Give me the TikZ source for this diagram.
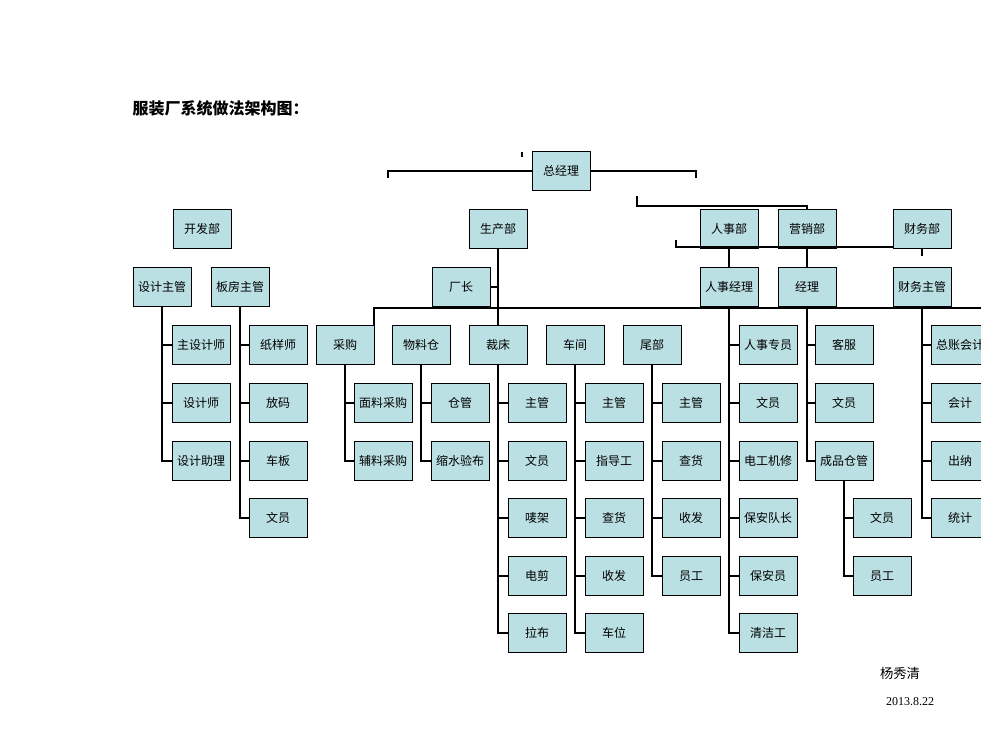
\documentclass[tikz,border=0pt]{standalone}
\usepackage{fontspec}
\setmainfont{Liberation Serif}
\newfontfamily\cjk{Noto Sans CJK SC}
\definecolor{boxfill}{HTML}{BBE0E3}
\begin{document}
\begin{tikzpicture}[x=0.75pt,y=-0.75pt,
  bx/.style={draw=black,line width=0.6pt,fill=boxfill,minimum width=43.5pt,minimum height=29pt,inner sep=1pt,font=\cjk\fontsize{9}{10}\selectfont},
  ln/.style={line width=2.2pt,line cap=butt}]
\useasboundingbox (0,0) rectangle (981,756);
\fill[white] (0,0) rectangle (981,756);
\node[anchor=west,font=\cjk\bfseries\fontsize{12}{14}\selectfont] (title) at (128,108) {服装厂系统做法架构图：};
\node[font=\cjk\fontsize{10}{12}\selectfont] (name) at (900,673) {杨秀清};
\node[font=\fontsize{9}{11}\selectfont] (date) at (910,702) {2013.8.22};
% boxes
\node[bx] (gm) at (561,171) {总经理};
\node[bx] (kf) at (202,229) {开发部};
\node[bx] (sc) at (498,229) {生产部};
\node[bx] (rs) at (729,229) {人事部};
\node[bx] (yx) at (807,229) {营销部};
\node[bx] (cw) at (922,229) {财务部};
\node[bx] (sjzg) at (162,287) {设计主管};
\node[bx] (bfzg) at (240,287) {板房主管};
\node[bx] (cz) at (461,287) {厂长};
\node[bx] (rsjl) at (729,287) {人事经理};
\node[bx] (jl) at (807,287) {经理};
\node[bx] (cwzg) at (922,287) {财务主管};
\node[bx] (zsjs) at (201,345) {主设计师};
\node[bx] (sjs) at (201,403) {设计师};
\node[bx] (sjzl) at (201,461) {设计助理};
\node[bx] (zys) at (278,345) {纸样师};
\node[bx] (fm) at (278,403) {放码};
\node[bx] (cb) at (278,461) {车板};
\node[bx] (wy1) at (278,518) {文员};
\node[bx] (cg) at (345,345) {采购};
\node[bx] (mlcg) at (383,403) {面料采购};
\node[bx] (flcg) at (383,461) {辅料采购};
\node[bx] (wlc) at (421,345) {物料仓};
\node[bx] (cgg) at (460,403) {仓管};
\node[bx] (ssyb) at (460,461) {缩水验布};
\node[bx] (cc) at (498,345) {裁床};
\node[bx] (c1) at (537,403) {主管};
\node[bx] (c2) at (537,461) {文员};
\node[bx] (c3) at (537,518) {唛架};
\node[bx] (c4) at (537,576) {电剪};
\node[bx] (c5) at (537,633) {拉布};
\node[bx] (cj) at (575,345) {车间};
\node[bx] (j1) at (614,403) {主管};
\node[bx] (j2) at (614,461) {指导工};
\node[bx] (j3) at (614,518) {查货};
\node[bx] (j4) at (614,576) {收发};
\node[bx] (j5) at (614,633) {车位};
\node[bx] (wb) at (652,345) {尾部};
\node[bx] (w1) at (691,403) {主管};
\node[bx] (w2) at (691,461) {查货};
\node[bx] (w3) at (691,518) {收发};
\node[bx] (w4) at (691,576) {员工};
\node[bx] (r1) at (768,345) {人事专员};
\node[bx] (r2) at (768,403) {文员};
\node[bx] (r3) at (768,461) {电工机修};
\node[bx] (r4) at (768,518) {保安队长};
\node[bx] (r5) at (768,576) {保安员};
\node[bx] (r6) at (768,633) {清洁工};
\node[bx] (y1) at (844,345) {客服};
\node[bx] (y2) at (844,403) {文员};
\node[bx] (y3) at (844,461) {成品仓管};
\node[bx] (y4) at (882,518) {文员};
\node[bx] (y5) at (882,576) {员工};
\node[bx] (f1) at (960,345) {总账会计};
\node[bx] (f2) at (960,403) {会计};
\node[bx] (f3) at (960,461) {出纳};
\node[bx] (f4) at (960,518) {统计};
% coordinates for free ends
\coordinate (tl) at (388,178);
\coordinate (tr) at (696,178);
\coordinate (tk1) at (522,152);
\coordinate (tk2) at (522,157);
\coordinate (m1) at (637,196);
\coordinate (hl) at (676,240);
\coordinate (hr) at (922,256);
\coordinate (pl) at (374,325);
\coordinate (pr) at (981,308);
\begin{scope}[on background layer/.style={}]
\end{scope}
% top connectors
\draw[ln] (tl) |- (gm.west);
\draw[ln] (tr) |- (gm.east);
\draw[ln] (tk1) -- (tk2);
\draw[ln] (m1) |- (yx.north |- 0,206) -- (yx.north);
\draw[ln] (hl) |- (cw.west |- 0,247);
\draw[ln] (cw.south) -- (hr);
\draw[ln] (rs) -- (rsjl);
\draw[ln] (yx) -- (jl);
\draw[ln] (sc.south) -- (cc.north);
\draw[ln] (cz.east) -- (cz.east -| sc);
\draw[ln] (pl) |- (pr);
% branches
\foreach \p/\c in {sjzg/zsjs,sjzg/sjs,sjzg/sjzl,bfzg/zys,bfzg/fm,bfzg/cb,bfzg/wy1,
  cg/mlcg,cg/flcg,wlc/cgg,wlc/ssyb,
  cc/c1,cc/c2,cc/c3,cc/c4,cc/c5,cj/j1,cj/j2,cj/j3,cj/j4,cj/j5,wb/w1,wb/w2,wb/w3,wb/w4,
  rsjl/r1,rsjl/r2,rsjl/r3,rsjl/r4,rsjl/r5,rsjl/r6,jl/y1,jl/y2,jl/y3,y3/y4,y3/y5,
  cwzg/f1,cwzg/f2,cwzg/f3,cwzg/f4}
  \draw[ln] (\p.south) |- (\c.west);
% redraw boxes on top
\foreach \n in {rs,yx,cw,rsjl,jl,cwzg}{}
\end{tikzpicture}
\end{document}
